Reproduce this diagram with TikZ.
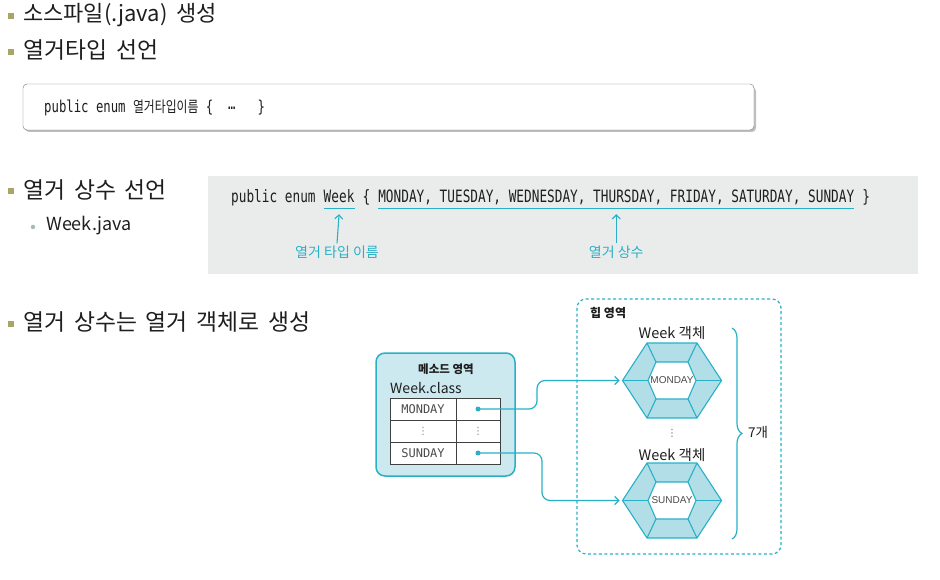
\documentclass[tikz,border=0pt]{standalone}
\usepackage{fontspec}
\setmainfont{Noto Sans CJK KR}
\newfontfamily\headfont[WordSpace=1.75]{Noto Sans CJK KR}
\newfontfamily\codefont[FakeStretch=0.75]{DejaVu Sans Mono}
\newfontfamily\tablefont{DejaVu Sans Mono}
\newfontfamily\codekr[FakeStretch=0.78]{Noto Sans CJK KR}
\newfontfamily\symfont{DejaVu Sans}
\newfontfamily\hexfont{Liberation Sans}
\usetikzlibrary{arrows.meta,positioning,decorations.pathreplacing}

\definecolor{bulletc}{RGB}{170,165,100}
\definecolor{subbul}{RGB}{170,185,178}
\definecolor{tealc}{RGB}{40,176,198}
\definecolor{methodfill}{RGB}{204,233,240}
\definecolor{ringfill}{RGB}{178,222,231}
\definecolor{codebg}{RGB}{234,236,236}
\definecolor{inkc}{RGB}{30,30,30}

\tikzset{
  bul/.style={fill=bulletc, minimum size=5.5pt, inner sep=0pt},
  head/.style={anchor=west, inner sep=0pt, text=inkc, font=\headfont\fontsize{22.8}{26}\selectfont},
  code/.style={anchor=west, inner sep=0pt, text height=12pt, text depth=3pt, text=inkc,
    font=\codefont\fontsize{17}{20}\selectfont},
  hand/.style={text=tealc, inner sep=1pt, font=\fontsize{14}{16}\selectfont},
  small/.style={inner sep=1pt, text=inkc, font=\fontsize{#1}{#1}\selectfont},
  cell/.style={draw=black!75, line width=.8pt},
  dotc/.style={circle, fill=tealc, minimum size=5pt, inner sep=0pt},
  link/.style={tealc, line width=1.2pt, rounded corners=8pt},
  ring/.style={draw=tealc, line width=1.1pt},
}

\begin{document}
\begin{tikzpicture}[x=1pt, y=-1pt, >={Straight Barb[length=4pt,width=8pt]}]
\useasboundingbox (0,0) rectangle (940,580);

% bullet lines
\node[bul] (b1) at (11,16) {};
\node[head, font=\headfont\fontsize{22}{26}\selectfont] (h1) at (23,15) {소스파일(.java) 생성};
\node[bul] (b2) at (11,52) {};
\node[head] (h2) at (23,50) {열거타입 선언};
\node[bul] (b3) at (11,191) {};
\node[head] (h3) at (23,190) {열거 상수 선언};
\node[circle, fill=subbul, minimum size=4.5pt, inner sep=0pt] (b3a) at (33,227) {};
\node[small=18, anchor=west, inner sep=0pt] (wj) at (46,226) {Week.java};
\node[bul] (b4) at (11,324) {};
\node[head] (h4) at (23,322) {열거 상수는 열거 객체로 생성};

% declaration box
\fill[black!25, rounded corners=4pt] (25,87) rectangle (756,132);
\draw[black!55, fill=white, rounded corners=4pt] (23,84) rectangle (754,130);
\node[code, font=\codefont\fontsize{16.4}{20}\selectfont] (decl) at (44,108.5)
  {public enum {\codekr\fontsize{15.2}{16}\selectfont 열거타입이름} \{~~\raisebox{3pt}{…}~~~\}};

% Week.java code
\fill[codebg] (208,176) rectangle (918,274);
\node[code] (kw) at (231,198.5) {public enum};
\node[code, right=7.7pt of kw] (wk) {Week};
\node[code, right=7.7pt of wk] (lb) {\{};
\node[code, right=7.7pt of lb] (cst) {MONDAY, TUESDAY, WEDNESDAY, THURSDAY, FRIDAY, SATURDAY, SUNDAY};
\node[code, right=7.7pt of cst] (rb) {\}};
\draw[tealc, line width=1.2pt] ([yshift=-2pt]wk.south west) -- ([yshift=-2pt]wk.south east);
\draw[tealc, line width=1.2pt] ([yshift=-2pt]cst.south west) -- ([yshift=-2pt]cst.south east);
\node[hand] (lblT) at (337,252) {열거 타입 이름};
\node[hand] (lblC) at (cst.south |- lblT) {열거 상수};
\draw[tealc, line width=1.1pt, ->] ([yshift=1pt]lblT.north) -- ([yshift=-8pt]wk.south);
\draw[tealc, line width=1.1pt, ->] ([yshift=1pt]lblC.north) -- ([yshift=-8pt]cst.south);

% method area
\draw[tealc, fill=methodfill, line width=1.5pt, rounded corners=9pt] (376,353) rectangle (515,476);
\node[small=11.5, font=\bfseries\fontsize{11.5}{12}\selectfont] (ma) at (446,369) {메소드 영역};
\node[small=14, anchor=west, inner sep=0pt] (wc) at (390,388) {Week.class};
\draw[cell, fill=white] (390,398) rectangle (500,464);
\draw[cell] (390,420) -- (500,420) (390,442) -- (500,442) (456,398) -- (456,464);
\node[small=12, text=black!70, font=\tablefont\fontsize{12}{12}\selectfont] (tmon) at (423,409) {MONDAY};
\node[small=10, text=black!50, font=\symfont\fontsize{10}{10}\selectfont] (tdots) at (423,431) {⋮};
\node[small=12, text=black!70, font=\tablefont\fontsize{12}{12}\selectfont] (tsun) at (423,453) {SUNDAY};
\node[small=10, text=black!50, font=\symfont\fontsize{10}{10}\selectfont] (rdots) at (478,431) {⋮};
\node[dotc] (mdot) at (478,409) {};
\node[dotc] (sdot) at (478,453) {};

% heap area
\draw[tealc, line width=1.2pt, dash pattern=on 3pt off 2.5pt, rounded corners=9pt] (577,299) rectangle (781,554);
\node[small=12, anchor=west, font=\bfseries\fontsize{12}{12}\selectfont] (heap) at (589,313) {힙 영역};
\foreach \cy/\nm/\lb/\ty in {380.5/hmon/MONDAY/333, 500.5/hsun/SUNDAY/455}{
  \begin{scope}[shift={(672,\cy)}]
    \filldraw[ring, fill=ringfill] (-49.5,0) -- (-25,-37.5) -- (25,-37.5) -- (49.5,0) -- (25,37.5) -- (-25,37.5) -- cycle;
    \filldraw[ring, fill=white] (-24,0) -- (-16,-18.5) -- (16,-18.5) -- (24,0) -- (16,18.5) -- (-16,18.5) -- cycle;
    \foreach \ox/\oy/\ix/\iy in {-49.5/0/-24/0, -25/-37.5/-16/-18.5, 25/-37.5/16/-18.5,
                                 49.5/0/24/0, 25/37.5/16/18.5, -25/37.5/-16/18.5}
      \draw[ring] (\ox,\oy) -- (\ix,\iy);
    \node[inner sep=0pt, text=black!70, font=\hexfont\fontsize{10}{10}\selectfont] (\nm) at (0,0) {\lb};
    \coordinate (\nm-L) at (-49.5,0);
  \end{scope}
  \node[small=14.5] (\nm-t) at (672,\ty) {Week 객체};
}
\node[small=10, text=black!60, font=\symfont\fontsize{10}{10}\selectfont] (hdots) at (672,433) {⋮};
\draw[tealc, line width=1.2pt, decorate, decoration={brace, amplitude=10pt}] (732,328) -- (732,539);
\node[small=13.5, anchor=west] (cnt) at (747,432) {7개};

% references
\draw[link, ->, shorten >=3pt] (mdot.center) -- ++(59,0) |- (hmon-L);
\draw[link, ->, shorten >=3pt] (sdot.center) -- ++(64,0) |- (hsun-L);
\end{tikzpicture}
\end{document}
